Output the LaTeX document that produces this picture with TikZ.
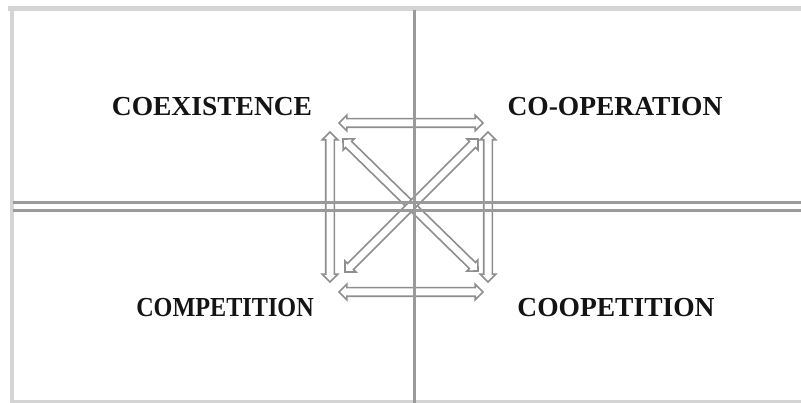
\documentclass[tikz,border=0pt]{standalone}
\usepackage{fontspec}
\setmainfont{Liberation Serif}
\usepackage{tikz}
\usetikzlibrary{calc,shapes.arrows}

\definecolor{gridgray}{HTML}{9A9A9A}
\definecolor{framegray}{HTML}{D4D4D4}
\definecolor{arrowgray}{HTML}{8E8E8E}

% hollow two-way arrow between two named points
\newcommand{\duplex}[3]{%
  \path let \p1=($(#3)-(#2)$), \n1={veclen(\x1,\y1)}, \n2={atan2(\y1,\x1)} in
    node[twoway,minimum height=\n1,rotate=\n2] (#1) at ($(#2)!0.5!(#3)$) {};}

\begin{document}
\begin{tikzpicture}[
    x=1pt,y=-1pt,
    quad/.style={font=\fontsize{27.5}{27.5}\selectfont\bfseries,text=black!92,inner sep=0pt},
    twoway/.style={double arrow,draw=arrowgray,fill=white,line width=1.6pt,
      inner sep=3.5pt,minimum width=0pt,double arrow head extend=3.5pt,
      double arrow tip angle=90},
    rule/.style={gridgray,line width=3pt},
    frame/.style={framegray,line width=4pt}]
  \useasboundingbox (0,0) rectangle (801,403);

  % quadrant labels
  \node[quad] (coex) at (212,107) {COEXISTENCE};
  \node[quad] (coop) at (615,107) {CO-OPERATION};
  \node[quad] (comp) at (225,308) {\scalebox{0.88}[1]{COMPETITION}};
  \node[quad] (cope) at (616,308) {COOPETITION};

  % arrow ends
  \coordinate (topl) at (339,123);
  \coordinate (topr) at (483,123);
  \coordinate (botl) at (339,292);
  \coordinate (botr) at (483,292);
  \coordinate (lftt) at (330,132);
  \coordinate (lftb) at (330,282);
  \coordinate (rgtt) at (488,132);
  \coordinate (rgtb) at (488,282);
  \coordinate (dgul) at (343,139);
  \coordinate (dglr) at (478,271);
  \coordinate (dgur) at (478,139);
  \coordinate (dgll) at (345,272);

  \duplex{arTop}{topl}{topr}
  \duplex{arBot}{botl}{botr}
  \duplex{arLft}{lftt}{lftb}
  \duplex{arRgt}{rgtt}{rgtb}
  \duplex{arDgA}{dgul}{dglr}
  \duplex{arDgB}{dgur}{dgll}

  % frame and axes
  \draw[frame,line width=5pt] (8,8.5) -- (801,8.5);
  \draw[frame] (12,6) -- (12,403);
  \draw[frame,line width=3pt] (10,401.5) -- (801,401.5);
  \draw[rule] (13,202.5) -- (801,202.5);
  \draw[rule] (13,210.5) -- (801,210.5);
  \draw[rule] (414,10) -- (414,403);
\end{tikzpicture}
\end{document}
